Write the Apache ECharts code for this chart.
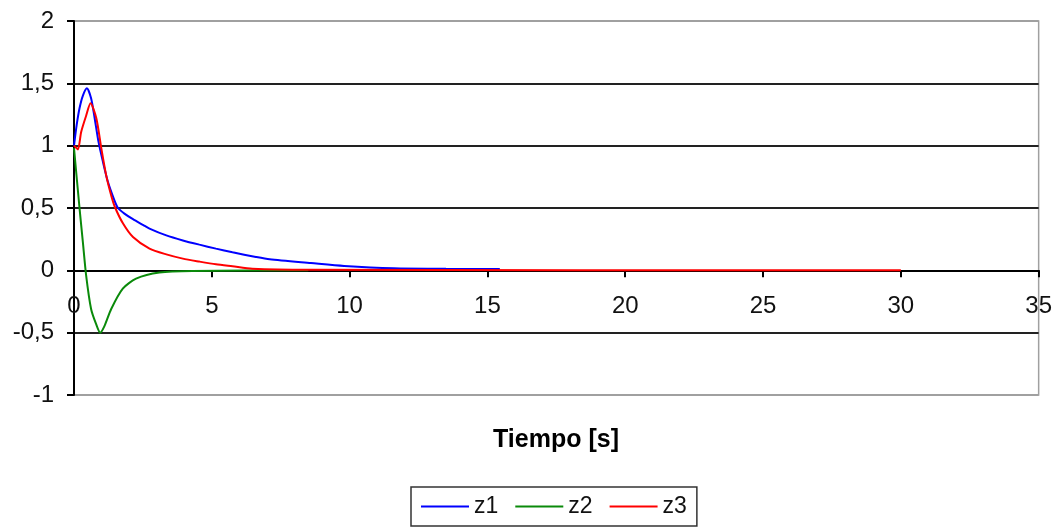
<!DOCTYPE html>
<html>
<head>
<meta charset="utf-8">
<script src="https://cdn.jsdelivr.net/npm/echarts@6/dist/echarts.min.js"></script>
<style>
  html, body { margin: 0; padding: 0; background: #ffffff; }
  #chart { width: 1055px; height: 531px; }
</style>
</head>
<body>
<div id="chart"></div>
<script>
// Time axis ticks and y ticks
const xTicks = [0, 5, 10, 15, 20, 25, 30, 35];
const yTicks = [-1, -0.5, 0, 0.5, 1, 1.5, 2];

// z1 response
const z1Time = [0, 0.1, 0.2, 0.32, 0.47, 0.62, 0.75, 0.89, 1.05, 1.23, 1.47, 1.6, 1.83, 2.14, 2.5, 2.74, 3.35, 3.95, 4.55, 5.15, 5.75, 6.6, 7.1, 8.6, 9.8, 11.6, 13.5, 15.45];
const z1Value = [1.0, 1.17, 1.30, 1.40, 1.46, 1.38, 1.22, 1.03, 0.87, 0.71, 0.56, 0.50, 0.455, 0.41, 0.365, 0.335, 0.28, 0.24, 0.206, 0.174, 0.145, 0.107, 0.088, 0.058, 0.035, 0.016, 0.012, 0.01];

// z2 response
const z2Time = [0, 0.2, 0.32, 0.44, 0.62, 0.8, 0.95, 1.1, 1.35, 1.77, 2.25, 3.1, 4.3, 8.5];
const z2Value = [0.98, 0.50, 0.23, -0.04, -0.31, -0.43, -0.5, -0.45, -0.31, -0.147, -0.067, -0.018, -0.005, 0];

// z3 response
const z3Time = [0, 0.14, 0.26, 0.44, 0.6, 0.81, 0.99, 1.17, 1.35, 1.48, 1.78, 2.14, 2.74, 3.35, 3.95, 4.55, 5.15, 5.75, 6.47, 8.5, 30];
const z3Value = [1.0, 0.97, 1.11, 1.24, 1.34, 1.22, 0.98, 0.76, 0.60, 0.51, 0.375, 0.267, 0.174, 0.128, 0.094, 0.07, 0.048, 0.032, 0.013, 0.004, 0];

const seriesNames = ['z1', 'z2', 'z3'];
const seriesColors = ['#0000ff', '#0a8a0a', '#ff0000'];

function pairs(ts, vs) {
  return ts.map((t, i) => [t, vs[i]]);
}

const FONT = 'Liberation Sans, Arial, sans-serif';

const GRID_TOP = 21;
const GRID_BOTTOM = 136;
const CHART_H = 531;
// distance from the plot bottom up to the zero line, where the time axis sits
const plotH = CHART_H - GRID_TOP - GRID_BOTTOM;
const zeroOffset = -plotH * (0 - yTicks[0]) / (yTicks[yTicks.length - 1] - yTicks[0]);

const chart = echarts.init(document.getElementById('chart'), null, { renderer: 'canvas' });

const option = {
  animation: false,
  backgroundColor: '#ffffff',
  textStyle: { fontFamily: FONT },
  grid: {
    left: 74, right: 16, top: GRID_TOP, bottom: GRID_BOTTOM,
    show: true,
    borderColor: '#a0a0a0',
    borderWidth: 1.5,
    backgroundColor: 'transparent'
  },
  xAxis: {
    type: 'value',
    position: 'bottom',
    offset: zeroOffset,
    min: xTicks[0],
    max: xTicks[xTicks.length - 1],
    interval: 5,
    axisLine: { show: true, onZero: false, lineStyle: { color: '#000', width: 2 } },
    axisTick: { show: true, inside: false, length: 7, lineStyle: { color: '#000', width: 2 } },
    axisLabel: { color: '#111', fontSize: 24, fontFamily: FONT, margin: 24, showMinLabel: true, showMaxLabel: true },
    splitLine: { show: false }
  },
  yAxis: {
    type: 'value',
    min: yTicks[0],
    max: yTicks[yTicks.length - 1],
    interval: 0.5,
    axisLine: { show: true, lineStyle: { color: '#000', width: 2 } },
    axisTick: { show: true, inside: false, length: 7, lineStyle: { color: '#000', width: 2 } },
    axisLabel: {
      color: '#111', fontSize: 24, fontFamily: FONT, margin: 20,
      formatter: v => String(v).replace('.', ',')
    },
    splitLine: {
      show: true,
      lineStyle: {
        color: ['#a0a0a0', '#222', '#222', '#222', '#222', '#222', '#a0a0a0'],
        width: 2
      }
    }
  },
  legend: {
    left: 411,
    top: 487,
    orient: 'horizontal',
    padding: [8, 10, 8, 10],
    itemGap: 17,
    itemWidth: 48,
    itemHeight: 14,
    borderColor: '#333',
    borderWidth: 1.5,
    borderRadius: 0,
    textStyle: { fontSize: 23, color: '#111', fontFamily: FONT },
    data: seriesNames.map(n => ({ name: n, icon: 'path://M0,6 L48,6 L48,8 L0,8 Z' }))
  },
  graphic: [{
    type: 'text',
    x: 556,
    y: 440,
    style: {
      text: 'Tiempo [s]',
      fontFamily: FONT,
      fontSize: 25,
      fontWeight: 'bold',
      fill: '#000',
      align: 'center',
      verticalAlign: 'middle'
    }
  }],
  series: [
    { data: pairs(z1Time, z1Value) },
    { data: pairs(z2Time, z2Value) },
    { data: pairs(z3Time, z3Value) }
  ].map((s, i) => ({
    name: seriesNames[i],
    type: 'line',
    data: s.data,
    showSymbol: false,
    symbol: 'none',
    smooth: 0.25,
    lineStyle: { color: seriesColors[i], width: 2 },
    itemStyle: { color: seriesColors[i] },
    z: 3 + (i === 1 ? 0 : i)
  }))
};

chart.setOption(option);
</script>
</body>
</html>
